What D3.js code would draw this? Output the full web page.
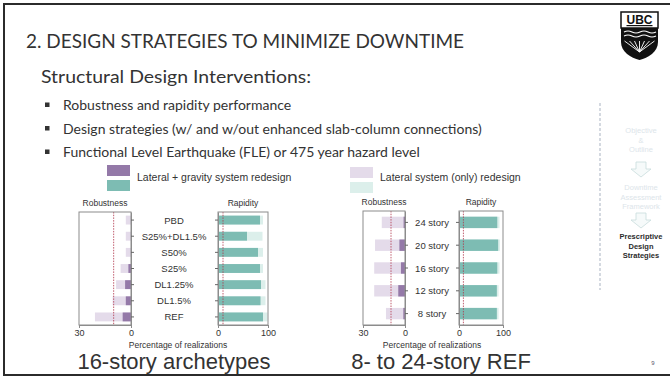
<!DOCTYPE html>
<html>
<head>
<meta charset="utf-8">
<script src="https://cdn.jsdelivr.net/npm/d3@7"></script>
<style>
  body { margin: 0; background: #fff; }
  svg { display: block; }
  .slide-text { font-family: Lato, "Open Sans", sans-serif; fill: #333; }
  .chart-text { font-family: Arial, "Liberation Sans", sans-serif; fill: #333; }
</style>
</head>
<body>
<div id="slide"></div>
<script>
// --- data ---
const archetypes = ['PBD', 'S25%+DL1.5%', 'S50%', 'S25%', 'DL1.25%', 'DL1.5%', 'REF'];
const archRobGravity = [0, 0, 0, 1.5, 3.4, 3, 4.8];
const archRobLateral = [3, 3, 3, 6, 8.6, 10.6, 20.8];
const archRapGravity = [84, 58, 80, 84, 86, 85, 90];
const archRapLateral = [90, 89, 90, 90, 95, 95, 99];

const storeys = ['24 story', '20 story', '16 story', '12 story', '8 story'];
const refRobGravity = [1, 4, 2.9, 4.8, 1.2];
const refRobLateral = [16.6, 21.4, 22, 22, 13.6];
const refRapGravity = [87, 89, 87, 86, 86];
const refRapLateral = [92, 93, 92, 90, 90];

const robTicks = [30, 0];
const rapTicks = [0, 100];
const targetLine = 10;

const bullets = [
  'Robustness and rapidity performance',
  'Design strategies (w/ and w/out enhanced slab-column connections)',
  'Functional Level Earthquake (FLE) or 475 year hazard level'
];
const navItems = [
  { lines: ['Objective', '&', 'Outline'], active: false },
  { lines: ['Downtime', 'Assessment', 'Framework'], active: false },
  { lines: ['Prescriptive', 'Design', 'Strategies'], active: true }
];

const colors = {
  gravityRob: '#9479a8',
  lateralRob: '#e4dbea',
  gravityRap: '#7dbcb3',
  lateralRap: '#dcefeb',
  frame: '#8c8c8c',
  target: '#b0344a'
};

const width = 670, height = 380;
const svg = d3.select('#slide').append('svg')
  .attr('width', width)
  .attr('height', height);

// slide border
svg.append('rect')
  .attr('x', 4).attr('y', 4)
  .attr('width', 672).attr('height', 371)
  .attr('fill', 'none')
  .attr('stroke', '#2b2b2b')
  .attr('stroke-width', 2);

// heading and bullets
svg.append('text').attr('class', 'slide-text')
  .attr('x', 26).attr('y', 48)
  .style('font-size', '19px')
  .attr('textLength', 438)
  .attr('lengthAdjust', 'spacingAndGlyphs')
  .text('2. DESIGN STRATEGIES TO MINIMIZE DOWNTIME');

svg.append('text').attr('class', 'slide-text')
  .attr('x', 41).attr('y', 83)
  .style('font-size', '18px')
  .attr('textLength', 270)
  .attr('lengthAdjust', 'spacingAndGlyphs')
  .text('Structural Design Interventions:');

bullets.forEach((b, i) => {
  const y = 105 + i * 23.5;
  svg.append('rect')
    .attr('x', 45).attr('y', y - 2.5)
    .attr('width', 4.5).attr('height', 4.5)
    .attr('fill', '#333');
  svg.append('text').attr('class', 'slide-text')
    .attr('x', 63).attr('y', y + 5)
    .style('font-size', '14px')
    .text(b);
});

// legend
const legendItems = [
  { x: 107, top: [165, colors.gravityRob], bottom: [180, colors.gravityRap], label: 'Lateral + gravity system redesign' },
  { x: 350, top: [167, colors.lateralRob], bottom: [182, colors.lateralRap], label: 'Lateral system (only) redesign' }
];
legendItems.forEach(l => {
  [l.top, l.bottom].forEach(([y, c]) => {
    svg.append('rect')
      .attr('x', l.x).attr('y', y)
      .attr('width', 23).attr('height', 11)
      .attr('fill', c);
  });
  svg.append('text').attr('class', 'chart-text')
    .attr('x', l.x + 30).attr('y', 181)
    .style('font-size', '10.5px')
    .text(l.label);
});

// one pair of panels (robustness | labels | rapidity)
function drawPanels(cfg) {
  const y = d3.scaleBand()
    .domain(cfg.cats)
    .range([cfg.top, cfg.bottom]);
  const barH = y.bandwidth() * cfg.barRatio;
  const barY = d => y(d) + (y.bandwidth() - barH) / 2;

  const xRob = d3.scaleLinear().domain([30, 0]).range(cfg.robRange);
  const xRap = d3.scaleLinear().domain([0, 100]).range(cfg.rapRange);

  const panels = [
    { x: xRob, gravity: cfg.robGravity, lateral: cfg.robLateral, cg: colors.gravityRob, cl: colors.lateralRob, title: 'Robustness', ticks: robTicks, side: 'right' },
    { x: xRap, gravity: cfg.rapGravity, lateral: cfg.rapLateral, cg: colors.gravityRap, cl: colors.lateralRap, title: 'Rapidity', ticks: rapTicks, side: 'left' }
  ];

  panels.forEach(p => {
    const g = svg.append('g');
    const [r0, r1] = p.x.range();

    g.selectAll('.lat').data(cfg.cats).enter().append('rect')
      .attr('x', (d, i) => Math.min(p.x(0), p.x(p.lateral[i])))
      .attr('y', d => barY(d))
      .attr('width', (d, i) => Math.abs(p.x(p.lateral[i]) - p.x(0)))
      .attr('height', barH)
      .attr('fill', p.cl);

    g.selectAll('.grav').data(cfg.cats).enter().append('rect')
      .attr('x', (d, i) => Math.min(p.x(0), p.x(p.gravity[i])))
      .attr('y', d => barY(d))
      .attr('width', (d, i) => Math.abs(p.x(p.gravity[i]) - p.x(0)))
      .attr('height', barH)
      .attr('fill', p.cg);

    g.append('line')
      .attr('x1', p.x(targetLine)).attr('x2', p.x(targetLine))
      .attr('y1', cfg.top).attr('y2', cfg.bottom)
      .attr('stroke', colors.target)
      .attr('stroke-width', 0.8)
      .attr('stroke-dasharray', '1.5,1.2');

    // frame
    g.append('rect')
      .attr('x', r0).attr('y', cfg.top)
      .attr('width', r1 - r0).attr('height', cfg.bottom - cfg.top)
      .attr('fill', 'none')
      .attr('stroke', colors.frame)
      .attr('stroke-width', 1);

    const xAxis = d3.axisBottom(p.x).tickValues(p.ticks).tickSize(3).tickPadding(1.5).tickFormat(d3.format('d'));
    const xa = g.append('g')
      .attr('transform', 'translate(0,' + cfg.bottom + ')')
      .call(xAxis);
    xa.select('.domain').attr('stroke', colors.frame);
    xa.selectAll('line').attr('stroke', colors.frame);
    xa.selectAll('text')
      .attr('fill', '#333')
      .style('font-size', '9px')
      .style('font-family', 'Arial, "Liberation Sans", sans-serif');

    const catAxis = p.side === 'right' ? d3.axisRight(y) : d3.axisLeft(y);
    const ca = g.append('g')
      .attr('transform', 'translate(' + p.x(0) + ',0)')
      .call(catAxis.tickSize(3).tickSizeOuter(0).tickFormat(''));
    ca.select('.domain').attr('stroke', colors.frame);
    ca.selectAll('line').attr('stroke', '#666');

    g.append('text').attr('class', 'chart-text')
      .attr('x', (r0 + r1) / 2).attr('y', cfg.top - 6)
      .attr('text-anchor', 'middle')
      .style('font-size', '8.5px')
      .text(p.title);
  });

  svg.selectAll(null).data(cfg.cats).enter().append('text')
    .attr('class', 'chart-text')
    .attr('x', cfg.labelX)
    .attr('y', d => y(d) + y.bandwidth() / 2 + 3.5)
    .attr('text-anchor', 'middle')
    .style('font-size', '9.5px')
    .text(d => d);

  svg.append('text').attr('class', 'chart-text')
    .attr('x', cfg.percentX).attr('y', 348)
    .attr('text-anchor', 'middle')
    .style('font-size', '8.5px')
    .text('Percentage of realizations');

  svg.append('text').attr('class', 'chart-text')
    .attr('x', cfg.captionX).attr('y', 369)
    .attr('text-anchor', 'middle')
    .style('font-size', '22px')
    .attr('fill', '#222')
    .text(cfg.caption);
}

drawPanels({
  cats: archetypes,
  robGravity: archRobGravity, robLateral: archRobLateral,
  rapGravity: archRapGravity, rapLateral: archRapLateral,
  top: 212, bottom: 325, barRatio: 0.55,
  robRange: [79, 131], rapRange: [218, 268],
  labelX: 174, percentX: 178, captionX: 174, caption: '16-story archetypes'
});

drawPanels({
  cats: storeys,
  robGravity: refRobGravity, robLateral: refRobLateral,
  rapGravity: refRapGravity, rapLateral: refRapLateral,
  top: 211, bottom: 325, barRatio: 0.5,
  robRange: [363, 405], rapRange: [459, 503],
  labelX: 432, percentX: 432, captionX: 441, caption: '8- to 24-story REF'
});

// UBC logo
const logo = svg.append('g').attr('transform', 'translate(621,12)');
logo.append('rect')
  .attr('x', 0).attr('y', 0).attr('width', 37).attr('height', 16)
  .attr('fill', '#fff').attr('stroke', '#111').attr('stroke-width', 1.5);
logo.append('text')
  .attr('x', 18.5).attr('y', 12)
  .attr('text-anchor', 'middle')
  .style('font-family', 'Arial, sans-serif')
  .style('font-weight', 'bold')
  .style('font-size', '12px')
  .attr('fill', '#111')
  .style('text-decoration', 'underline')
  .text('UBC');
logo.append('path')
  .attr('d', 'M0,16 L37,16 L37,30 C37,40 27,46 18.5,48 C10,46 0,40 0,30 Z')
  .attr('fill', '#111');
[20, 24].forEach(yy => {
  logo.append('path')
    .attr('d', 'M3,' + yy + ' q4,-2 8,0 t8,0 t8,0 t8,0')
    .attr('fill', 'none').attr('stroke', '#fff').attr('stroke-width', 1.1);
});
d3.range(-3, 4).forEach(k => {
  logo.append('line')
    .attr('x1', 18.5).attr('y1', 40)
    .attr('x2', 18.5 + k * 5).attr('y2', 29)
    .attr('stroke', '#fff').attr('stroke-width', 0.9);
});

// side navigation
svg.append('line')
  .attr('x1', 600).attr('x2', 600)
  .attr('y1', 103).attr('y2', 290)
  .attr('stroke', '#a9b3c2')
  .attr('stroke-width', 1)
  .attr('stroke-dasharray', '3,2');

const navStarts = [130, 187, 236];
navItems.forEach((n, i) => {
  n.lines.forEach((t, j) => {
    svg.append('text')
      .attr('x', 641).attr('y', navStarts[i] + j * 9.5 + 3)
      .attr('text-anchor', 'middle')
      .style('font-family', 'Arial, "Liberation Sans", sans-serif')
      .style('font-size', '7.5px')
      .style('font-weight', n.active ? 'bold' : 'normal')
      .attr('fill', n.active ? '#2b2b2b' : '#dde5ea')
      .text(t);
  });
});
[162, 213].forEach(ay => {
  svg.append('path')
    .attr('d', 'M636,' + ay + ' h10 v7 h5 l-10,8 l-10,-8 h5 z')
    .attr('fill', '#f6fafa')
    .attr('stroke', '#c8dcdc')
    .attr('stroke-width', 0.8);
});

svg.append('text')
  .attr('x', 653).attr('y', 365)
  .attr('text-anchor', 'middle')
  .style('font-family', 'Arial, sans-serif')
  .style('font-size', '6px')
  .attr('fill', '#556')
  .text('9');
</script>
</body>
</html>
